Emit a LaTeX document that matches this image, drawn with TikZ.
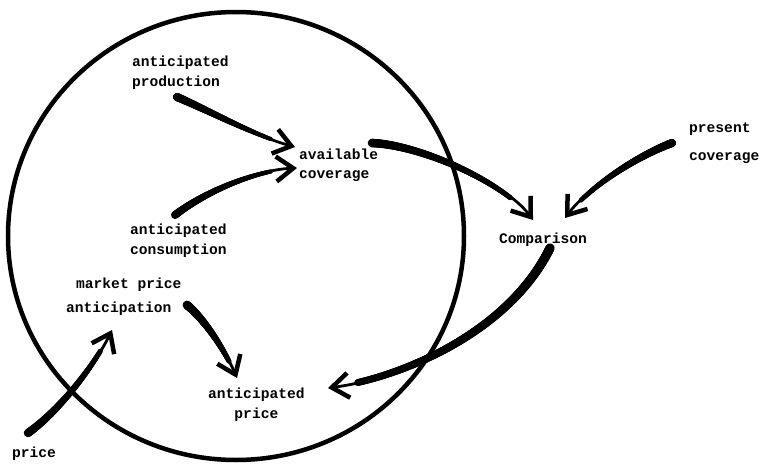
\documentclass[tikz,border=0pt]{standalone}
\usepackage{fontspec}
\setmonofont{Liberation Mono}
\usetikzlibrary{arrows.meta,calc,decorations.markings}
\tikzset{
  lbl/.style={font=\ttfamily\bfseries\fontsize{14.6}{20}\selectfont, inner sep=0pt, anchor=base west, align=left},
  flow/.style n args={3}{line width=2.8pt, line cap=round,
    -{Straight Barb[length=17pt,width=25pt,line width=4.5pt]},
    postaction={decorate, decoration={markings,
      mark=between positions 0 and #3 step 0.6pt with {\pgfmathsetmacro\rr{#1*(1-#2*\pgfkeysvalueof{/pgf/decoration/mark info/distance from start}/\pgfdecoratedpathlength)}\fill (0,0) circle (\rr pt);}}}},
  ring/.style={line width=4.5pt}
}
\begin{document}
\begin{tikzpicture}[x=1pt,y=-1pt]
\useasboundingbox (0,0) rectangle (761,466);
\draw[ring] (236,236) ellipse [x radius=228pt, y radius=224pt];

\node[lbl] (prod) at (132,86) {anticipated\\production};
\node[lbl] (avail) at (299,178) {available\\[-1pt]coverage};
\node[lbl] (cons) at (130,254) {anticipated\\consumption};
\node[lbl] (mkt) at (66,312) {\hspace*{10pt}market price\\[4pt]anticipation};
\node[lbl, align=center] (aprice) at (208,418) {anticipated\\price};
\node[lbl] (price) at (12,457) {price};
\node[lbl] (comp) at (499,243) {Comparison};
\node[lbl] (pres) at (689,160) {present\\[8pt]coverage};

\draw[flow={4.2}{0.65}{0.8}] ($(prod.base west)+(45,11)$) .. controls +(35,15) and +(-40,-11) .. ($(avail.base west)+(-4,-31)$);
\draw[flow={4}{0.6}{0.8}] ($(cons.base west)+(45,-39)$) .. controls +(30,-23) and +(-42,2) .. ($(avail.base west)+(-2,-10)$);
\draw[flow={4.3}{0.5}{0.82}] ($(avail.base west)+(73,-35)$) .. controls +(48,2) and +(-28,-38) .. ($(comp.base west)+(34,-23)$);
\draw[flow={4.2}{0.55}{0.82}] ($(pres.base west)+(-17,-17)$) .. controls +(-32,12) and +(25,-33) .. ($(comp.base west)+(66,-25)$);
\draw[flow={4.7}{0.3}{0.88}] ($(comp.base west)+(51,5)$) .. controls +(-40,82) and +(77,-10) .. ($(aprice.base west)+(120,-30)$);
\draw[flow={4.4}{0.55}{0.8}] ($(mkt.base west)+(121,-7)$) .. controls +(18,15) and +(-12,-28) .. ($(aprice.base west)+(29,-40)$);
\draw[flow={4.2}{0.5}{0.82}] ($(price.base west)+(16,-24)$) .. controls +(32,-23) and +(-17,35) .. ($(mkt.base west)+(46,18)$);
\end{tikzpicture}
\end{document}
